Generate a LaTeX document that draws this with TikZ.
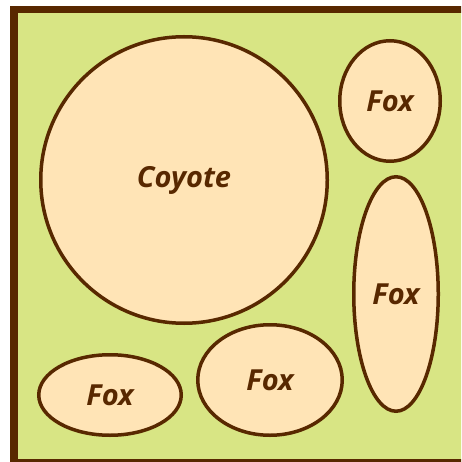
\documentclass[tikz,border=0pt]{standalone}
\usepackage{fontspec}
\setmainfont{Open Sans}
\usetikzlibrary{shapes.geometric}
\definecolor{brn}{RGB}{88,40,0}
\definecolor{grn}{RGB}{216,229,132}
\definecolor{skin}{RGB}{255,228,182}
\tikzset{
  animal/.style={ellipse, draw=brn, fill=skin, line width=3.5pt, inner sep=0pt,
    text=brn, font=\fontsize{29}{33}\selectfont\bfseries\itshape}
}
\begin{document}
\begin{tikzpicture}[x=1pt,y=-1pt]
\useasboundingbox (0,0) rectangle (461,462);
\clip (0,0) rectangle (461,462);
\fill[white] (0,0) rectangle (461,462);
\draw[brn, fill=grn, line width=7.5pt] (13.75,9.75) rectangle (466,463);
\node[animal, minimum width=286.5pt, minimum height=286.5pt] (coyote) at (184,180) {Coyote};
\node[animal, minimum width=100.5pt, minimum height=120.5pt] (fox1) at (390,101) {Fox};
\node[animal, minimum width=84.5pt, minimum height=234.5pt] (fox2) at (396,294) {Fox};
\node[animal, minimum width=144.5pt, minimum height=110.5pt] (fox3) at (270,380) {Fox};
\node[animal, minimum width=142.5pt, minimum height=80.5pt] (fox4) at (110,395) {Fox};
\end{tikzpicture}
\end{document}
